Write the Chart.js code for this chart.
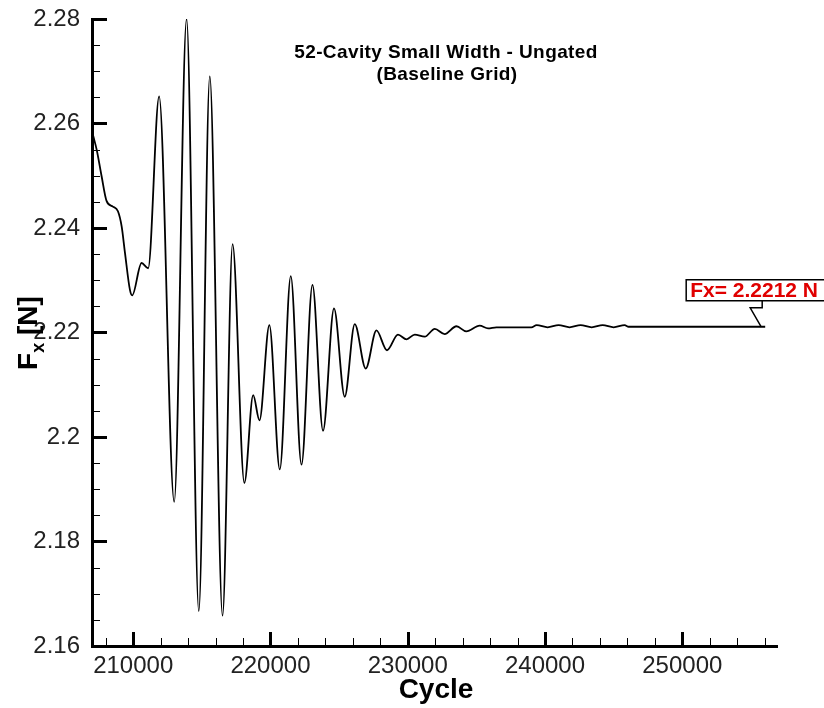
<!DOCTYPE html>
<html lang="en">
<head>
    <meta charset="UTF-8">
    <title>52-Cavity Small Width - Ungated</title>
    <script src="https://cdn.jsdelivr.net/npm/chart.js"></script>
    <style>
        body {
            margin: 0;
            padding: 0;
            background-color: #fff;
        }
        #wrap {
            width: 824px;
            height: 708px;
        }
    </style>
</head>
<body>
    <div id="wrap"><canvas id="fxChart"></canvas></div>

    <script>
        // values
        const cycles = [
            207090, 207340, 207700, 208060, 208520, 208890, 209160, 209400, 209760, 209930,
            210610, 211090, 211890, 212990, 213890, 214780, 215580, 216510, 217240, 218100,
            218740, 219200, 219920, 220680, 221480, 222260, 223060, 223830, 224630, 225410,
            226140, 226940, 227720, 228490, 229290, 229910, 230510, 231240, 231970, 232690,
            233550, 234270, 235240, 235850, 236460, 239010, 239390, 240190, 240990, 241790,
            242590, 243400, 244200, 245000, 245800, 246090, 256040
        ];
        const fx = [
            2.2576, 2.2550, 2.2499, 2.2452, 2.2441, 2.2432, 2.2403, 2.2353, 2.2282, 2.2271,
            2.2333, 2.2323, 2.2652, 2.1876, 2.2800, 2.1667, 2.2690, 2.1658, 2.2369, 2.1912,
            2.2080, 2.2032, 2.2214, 2.1938, 2.2308, 2.1947, 2.2291, 2.2012, 2.2246, 2.2077,
            2.2216, 2.2131, 2.2204, 2.2166, 2.2196, 2.2187, 2.2196, 2.2192, 2.2207, 2.2197,
            2.2212, 2.2202, 2.2213, 2.2208, 2.2210, 2.2210, 2.2214, 2.2210, 2.2214, 2.2210,
            2.2214, 2.2210, 2.2214, 2.2210, 2.2214, 2.2211, 2.2211
        ];
        const xTicks = [210000, 220000, 230000, 240000, 250000];
        const titleLines = ['52-Cavity Small Width - Ungated', '(Baseline Grid)'];
        const finalLabel = 'Fx= 2.2212 N';

        const points = cycles.map((c, i) => ({ x: c, y: fx[i] }));
        const fontFam = "'Liberation Sans', Arial, sans-serif";

        // ticks pointing into the plot, title, axis titles and the end label
        const decor = {
            id: 'decor',
            afterDraw(chart) {
                const ctx = chart.ctx;
                const xs = chart.scales.x, ys = chart.scales.y;
                const area = chart.chartArea;
                ctx.save();
                ctx.strokeStyle = '#000';

                // y ticks
                for (let k = 0; k <= 24; k++) {
                    const v = 2.16 + k * 0.005;
                    const py = Math.round(ys.getPixelForValue(v)) + 0.5;
                    const major = k % 4 === 0;
                    ctx.lineWidth = major ? 3 : 1;
                    ctx.beginPath();
                    ctx.moveTo(area.left, py);
                    ctx.lineTo(area.left + (major ? 15 : 8), py);
                    ctx.stroke();
                }
                // x ticks
                for (let c = 208000; c <= 256000; c += 2000) {
                    const px = Math.round(xs.getPixelForValue(c)) + 0.5;
                    const major = c % 10000 === 0;
                    ctx.lineWidth = major ? 3 : 1;
                    ctx.beginPath();
                    ctx.moveTo(px, area.bottom);
                    ctx.lineTo(px, area.bottom - (major ? 14 : 8));
                    ctx.stroke();
                }

                // title
                ctx.fillStyle = '#000';
                ctx.textAlign = 'center';
                ctx.textBaseline = 'middle';
                ctx.font = 'bold 19px ' + fontFam;
                ctx.letterSpacing = '0.4px';
                ctx.fillText(titleLines[0], 446, 53);
                ctx.fillText(titleLines[1], 447, 75);
                ctx.letterSpacing = '0px';

                // x title
                ctx.font = 'bold 28px ' + fontFam;
                ctx.fillText('Cycle', 436, 690);

                // y title F_x [N]
                ctx.save();
                ctx.translate(37, 331);
                ctx.rotate(-Math.PI / 2);
                ctx.textAlign = 'left';
                ctx.textBaseline = 'alphabetic';
                const big = 'bold 28px ' + fontFam, small = 'bold 18px ' + fontFam;
                ctx.font = big; const wF = ctx.measureText('F').width;
                const wN = ctx.measureText(' [N]').width;
                ctx.font = small; const wx = ctx.measureText('x').width;
                let sx = -(wF + wx + wN) / 2 - 2;
                ctx.font = big; ctx.fillText('F', sx, 0); sx += wF;
                ctx.font = small; ctx.fillText('x', sx, 7); sx += wx;
                ctx.font = big; ctx.fillText(' [N]', sx, 0);
                ctx.restore();

                // end label with leader line
                const ex = xs.getPixelForValue(cycles[cycles.length - 1]);
                const ey = ys.getPixelForValue(fx[fx.length - 1]);
                const bx = ex - 79, by = ey - 47, bh = 21;
                ctx.lineWidth = 1.5;
                ctx.fillStyle = '#fff';
                ctx.fillRect(bx, by, 200, bh);
                ctx.strokeRect(bx, by, 200, bh);
                ctx.beginPath();
                ctx.moveTo(ex - 3, by + bh);
                ctx.lineTo(ex - 3, ey - 19);
                ctx.lineTo(ex - 15, ey - 19);
                ctx.lineTo(ex - 4, ey);
                ctx.stroke();
                ctx.fillStyle = '#e00000';
                ctx.font = 'bold 21px ' + fontFam;
                ctx.textAlign = 'left';
                ctx.textBaseline = 'middle';
                ctx.fillText(finalLabel, bx + 4, by + bh / 2 + 1);

                ctx.restore();
            }
        };

        new Chart(document.getElementById('fxChart'), {
            type: 'line',
            data: {
                datasets: [{
                    data: points,
                    borderColor: '#000',
                    borderWidth: 1.8,
                    pointRadius: 0,
                    fill: false,
                    cubicInterpolationMode: 'monotone'
                }]
            },
            options: {
                responsive: true,
                maintainAspectRatio: false,
                animation: false,
                layout: { padding: { top: 19, right: 47, left: 0, bottom: 0 } },
                plugins: {
                    legend: { display: false },
                    tooltip: { enabled: false }
                },
                scales: {
                    x: {
                        type: 'linear',
                        min: 207000,
                        max: 256900,
                        afterBuildTicks: (scale) => {
                            scale.ticks = xTicks.map(v => ({ value: v }));
                        },
                        afterFit: (scale) => {
                            scale.height = 62;
                            scale.paddingLeft = 0;
                            scale.paddingRight = 0;
                        },
                        grid: { display: false, drawTicks: false },
                        border: { display: true, color: '#000', width: 3 },
                        ticks: {
                            color: '#222',
                            padding: 6,
                            maxRotation: 0,
                            font: { family: fontFam, size: 24 },
                            callback: (v) => String(v)
                        }
                    },
                    y: {
                        min: 2.16,
                        max: 2.28,
                        afterFit: (scale) => {
                            scale.width = 92;
                            scale.paddingTop = 0;
                            scale.paddingBottom = 0;
                        },
                        grid: { display: false, drawTicks: false },
                        border: { display: true, color: '#000', width: 3 },
                        ticks: {
                            stepSize: 0.02,
                            color: '#222',
                            padding: 12,
                            font: { family: fontFam, size: 24 },
                            callback: (v) => String(Number(v.toFixed(2)))
                        }
                    }
                }
            },
            plugins: [decor]
        });
    </script>
</body>
</html>
